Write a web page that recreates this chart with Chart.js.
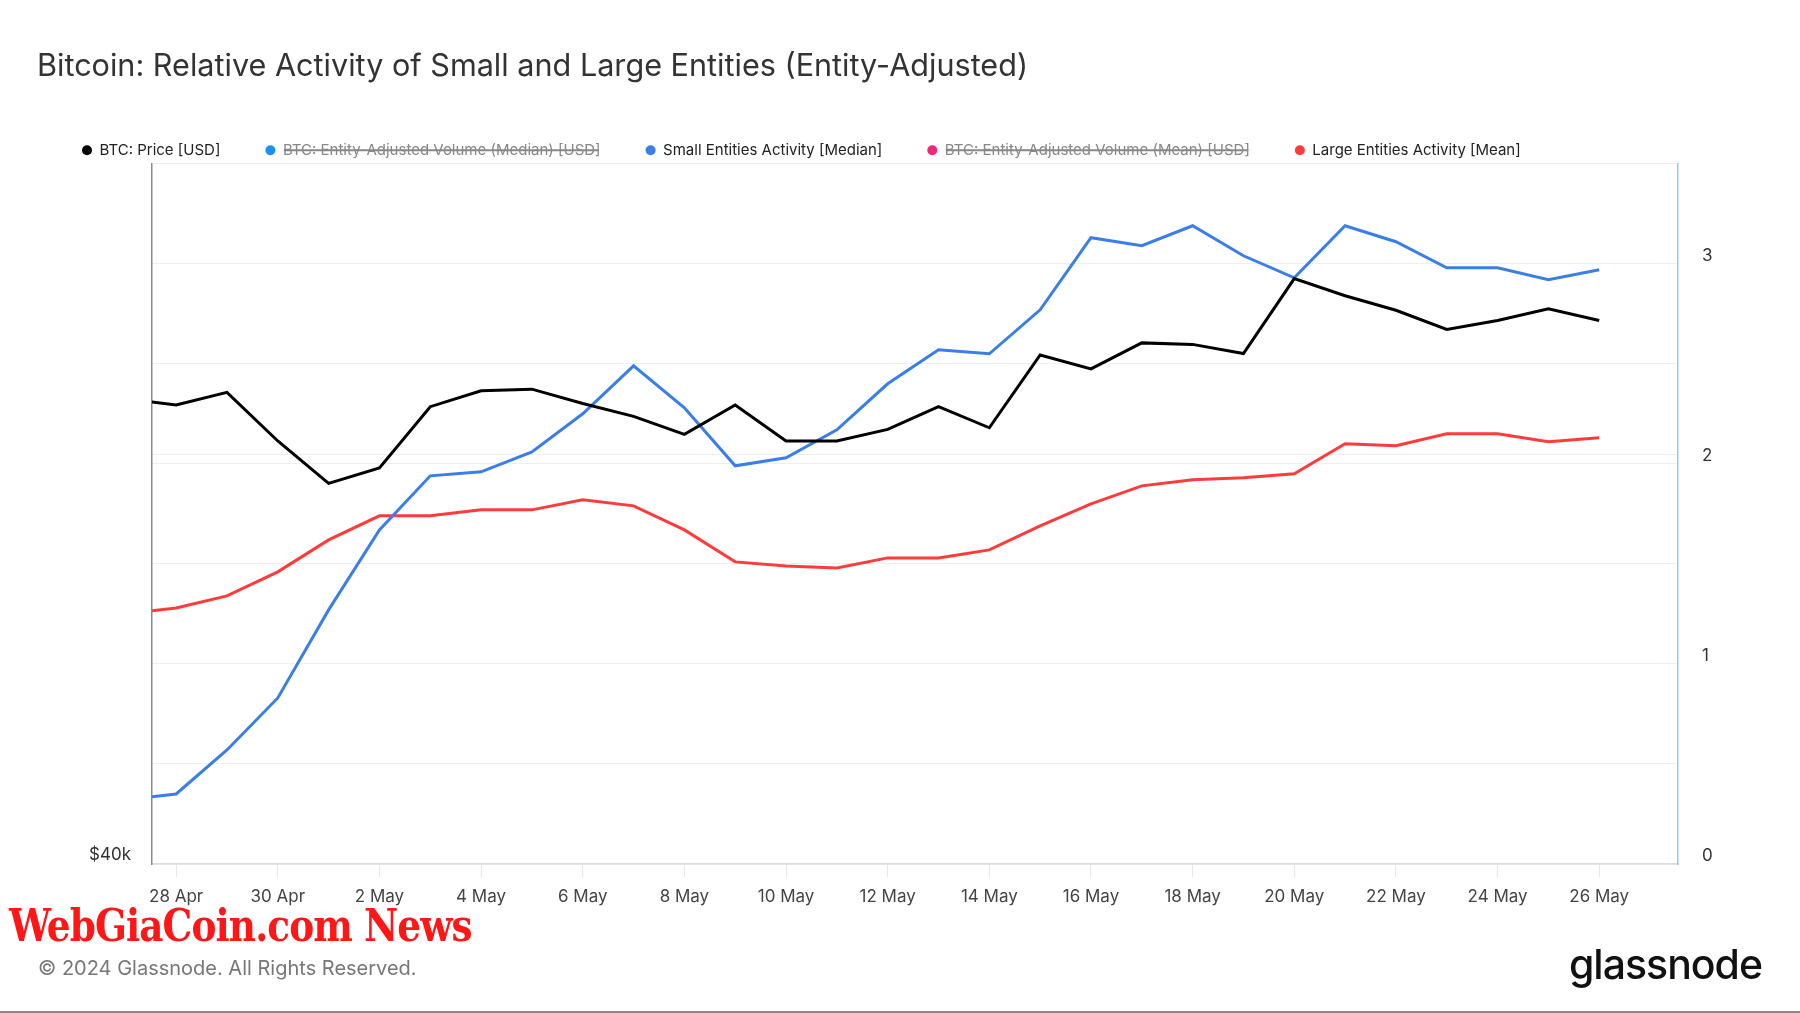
<!DOCTYPE html>
<html lang="en">
<head>
    <meta charset="UTF-8">
    <title>Bitcoin: Relative Activity of Small and Large Entities</title>
    <script src="https://cdn.jsdelivr.net/npm/chart.js"></script>
    <style>
        body { margin: 0; background: #fff; font-family: Inter, sans-serif; }
        #wrap { position: relative; width: 1800px; height: 1013px; overflow: hidden; }
        #wrap canvas { position: absolute; left: 0; top: 0; }
        .watermark {
            position: absolute; left: 9px; top: 897px;
            font-family: "DejaVu Serif Condensed", "DejaVu Serif", serif;
            font-weight: bold; font-size: 45px; line-height: 58px;
            color: #ff1717; letter-spacing: -1px;
            transform: scaleX(0.925); transform-origin: left center;
        }
        .copyright {
            position: absolute; left: 38px; top: 955px;
            font-size: 20px; line-height: 26px; color: #777;
        }
        .logo {
            position: absolute; right: 38px; top: 938px;
            font-size: 41px; line-height: 52px; font-weight: 500;
            color: #111; letter-spacing: -1px;
        }
        .bottom-line { position: absolute; left: 0; top: 1011px; width: 1800px; height: 2px; background: #8c8c8c; }
    </style>
</head>
<body>
<div id="wrap">
    <canvas id="chart"></canvas>
    <div class="watermark">WebGiaCoin.com News</div>
    <div class="copyright">© 2024 Glassnode. All Rights Reserved.</div>
    <div class="logo">glassnode</div>
    <div class="bottom-line"></div>
</div>

<script>
    // daily points, 27 Apr .. 26 May 2024 (first one sits just left of the plot)
    const dates = ['27 Apr', '28 Apr', '29 Apr', '30 Apr', '1 May', '2 May', '3 May', '4 May', '5 May', '6 May',
        '7 May', '8 May', '9 May', '10 May', '11 May', '12 May', '13 May', '14 May', '15 May', '16 May',
        '17 May', '18 May', '19 May', '20 May', '21 May', '22 May', '23 May', '24 May', '25 May', '26 May'];

    const btcPrice = [63400, 63000, 63800, 60800, 58300, 59200, 62900, 63900, 64000, 63100,
        62300, 61200, 63000, 60800, 60800, 61500, 62900, 61600, 66200, 65300,
        67000, 66900, 66300, 71400, 70200, 69200, 67900, 68500, 69300, 68500];

    const smallActivity = [0.32, 0.35, 0.57, 0.83, 1.27, 1.67, 1.94, 1.96, 2.06, 2.25,
        2.49, 2.28, 1.99, 2.03, 2.17, 2.40, 2.57, 2.55, 2.77, 3.13,
        3.09, 3.19, 3.04, 2.93, 3.19, 3.11, 2.98, 2.98, 2.92, 2.97];

    const largeActivity = [1.25, 1.28, 1.34, 1.46, 1.62, 1.74, 1.74, 1.77, 1.77, 1.82,
        1.79, 1.67, 1.51, 1.49, 1.48, 1.53, 1.53, 1.57, 1.69, 1.80,
        1.89, 1.92, 1.93, 1.95, 2.10, 2.09, 2.15, 2.15, 2.11, 2.13];

    const xTickLabels = ['28 Apr', '30 Apr', '2 May', '4 May', '6 May', '8 May', '10 May', '12 May',
        '14 May', '16 May', '18 May', '20 May', '22 May', '24 May', '26 May'];
    const priceTicks = [40000, 60000, 80000];
    const priceTickLabels = ['$40k', '', ''];
    const activityTicks = [0, 0.5, 1, 1.5, 2, 2.5, 3, 3.5];
    const activityTickLabels = ['0', '', '1', '', '2', '', '3', ''];

    const toPoints = arr => arr.map((v, i) => ({ x: i, y: v }));
    const font = { family: 'Inter', size: 17 };

    new Chart(document.getElementById('chart'), {
        type: 'line',
        data: {
            datasets: [
                {
                    label: 'BTC: Price [USD]',
                    data: toPoints(btcPrice),
                    yAxisID: 'price',
                    borderColor: '#000000',
                    backgroundColor: '#000000'
                },
                {
                    label: 'BTC: Entity-Adjusted Volume (Median) [USD]',
                    data: [],
                    hidden: true,
                    yAxisID: 'price',
                    borderColor: '#1b8ff5',
                    backgroundColor: '#1b8ff5'
                },
                {
                    label: 'Small Entities Activity [Median]',
                    data: toPoints(smallActivity),
                    yAxisID: 'act',
                    borderColor: '#3a7ee8',
                    backgroundColor: '#3a7ee8'
                },
                {
                    label: 'BTC: Entity-Adjusted Volume (Mean) [USD]',
                    data: [],
                    hidden: true,
                    yAxisID: 'price',
                    borderColor: '#f0287c',
                    backgroundColor: '#f0287c'
                },
                {
                    label: 'Large Entities Activity [Mean]',
                    data: toPoints(largeActivity),
                    yAxisID: 'act',
                    borderColor: '#ff3b3b',
                    backgroundColor: '#ff3b3b'
                }
            ]
        },
        options: {
            responsive: true,
            maintainAspectRatio: false,
            animation: false,
            layout: { padding: { left: 37, right: 0, top: 0, bottom: 0 } },
            elements: {
                line: { borderWidth: 3, tension: 0 },
                point: { radius: 0, hoverRadius: 0 }
            },
            plugins: {
                tooltip: { enabled: false },
                title: {
                    display: true,
                    text: 'Bitcoin: Relative Activity of Small and Large Entities (Entity-Adjusted)',
                    align: 'start',
                    color: '#333',
                    font: { family: 'Inter', size: 30.6, weight: '400' },
                    padding: { top: 48, bottom: 13 }
                },
                legend: {
                    align: 'start',
                    maxHeight: 66,
                    labels: {
                        font: { family: 'Inter', size: 15 },
                        color: '#222',
                        usePointStyle: true,
                        pointStyle: 'circle',
                        boxHeight: 7,
                        pointStyleWidth: 10,
                        padding: 45,
                        generateLabels: chart => {
                            const items = Chart.defaults.plugins.legend.labels.generateLabels(chart);
                            return items.map(item => Object.assign(item, {
                                lineWidth: 0,
                                pointStyle: 'circle',
                                fontColor: item.hidden ? '#888' : '#222'
                            }));
                        }
                    }
                }
            },
            scales: {
                x: {
                    type: 'linear',
                    min: 0.525,
                    max: 30.55,
                    afterBuildTicks: axis => {
                        axis.ticks = xTickLabels.map(l => ({ value: dates.indexOf(l) }));
                    },
                    afterFit: axis => { axis.height = 149; },
                    ticks: {
                        autoSkip: false,
                        maxRotation: 0,
                        padding: 10,
                        color: '#444',
                        font: font,
                        callback: v => dates[v]
                    },
                    grid: {
                        drawOnChartArea: false,
                        drawTicks: true,
                        tickLength: 13,
                        tickColor: '#e8e8e8'
                    },
                    border: { color: '#dcdcdc', width: 1.5 }
                },
                price: {
                    type: 'logarithmic',
                    position: 'left',
                    min: 40000,
                    max: 80000,
                    afterBuildTicks: axis => {
                        axis.ticks = priceTicks.map(v => ({ value: v }));
                    },
                    afterFit: axis => { axis.width = 115; },
                    ticks: {
                        padding: 21,
                        labelOffset: -9,
                        color: '#333',
                        font: font,
                        callback: (v, i) => priceTickLabels[i]
                    },
                    grid: { color: '#eeeeee', drawTicks: false },
                    border: { color: '#8a8a8a', width: 1.5 }
                },
                act: {
                    type: 'linear',
                    position: 'right',
                    min: 0,
                    max: 3.5,
                    afterBuildTicks: axis => {
                        axis.ticks = activityTicks.map(v => ({ value: v }));
                    },
                    afterFit: axis => { axis.width = 122; },
                    ticks: {
                        padding: 24,
                        labelOffset: -8,
                        color: '#333',
                        font: font,
                        callback: (v, i) => activityTickLabels[i]
                    },
                    grid: { color: '#efefef', drawTicks: false },
                    border: { color: '#92c9fa', width: 1.5 }
                }
            }
        }
    });
</script>
</body>
</html>
